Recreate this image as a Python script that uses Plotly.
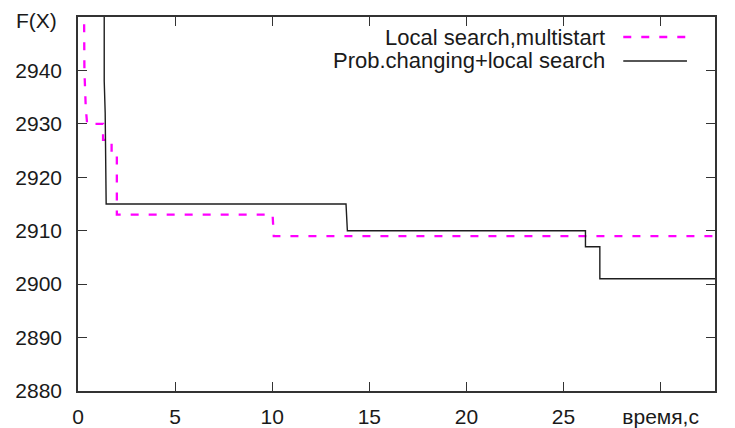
import plotly.graph_objects as go

# Data
ms_x = [0.31, 0.33, 0.40, 0.47, 1.29, 1.29, 1.73, 1.73, 2.00, 2.00, 10.02, 10.08, 32.8]
ms_y = [2952, 2940, 2933, 2930, 2930, 2927, 2927, 2925, 2925, 2913, 2913, 2909, 2909]

pc_x = [1.35, 1.35, 1.40, 1.45, 13.80, 13.83, 13.87, 26.13, 26.13, 26.87, 26.87, 32.8]
pc_y = [2970, 2938, 2932, 2915, 2915, 2912, 2910, 2910, 2907, 2907, 2901, 2901]

x_tickvals = [0, 5, 10, 15, 20, 25, 30]
x_ticktext = ["0", "5", "10", "15", "20", "25", "время,с"]
y_tickvals = [2880, 2890, 2900, 2910, 2920, 2930, 2940, 2950]
y_ticktext = ["2880", "2890", "2900", "2910", "2920", "2930", "2940", ""]
y_axis_label = "F(X)"

legend_names = ["Local search,multistart", "Prob.changing+local search"]

MAGENTA = "#ff00ff"
BLACK = "#1e1e1e"
FONT = "Liberation Sans, Arial, sans-serif"

fig = go.Figure()
fig.add_trace(go.Scatter(x=ms_x, y=ms_y, mode="lines", name=legend_names[0],
                         line=dict(color=MAGENTA, width=2.3, dash="8px,10px"),
                         showlegend=False))
fig.add_trace(go.Scatter(x=pc_x, y=pc_y, mode="lines", name=legend_names[1],
                         line=dict(color=BLACK, width=1.4),
                         showlegend=False))

axis_common = dict(showline=True, linecolor="#333333", linewidth=1.6, mirror="allticks",
                   ticks="inside", ticklen=9, tickwidth=1.3, tickcolor="#333333",
                   showgrid=False, zeroline=False, automargin=False,
                   ticklabeloverflow="allow",
                   tickfont=dict(family=FONT, size=21, color="#1a1a1a"))

fig.update_xaxes(range=[0, 32.8], tickmode="array", tickvals=x_tickvals,
                 ticktext=x_ticktext, ticklabelstandoff=6, **axis_common)
fig.update_yaxes(range=[2880, 2950], tickmode="array", tickvals=y_tickvals,
                 ticktext=y_ticktext, ticklabelstandoff=10, **axis_common)

# y-axis label in the place of the top tick label (kept inside the page)
fig.add_annotation(x=-0.032, y=1.024, xref="paper", yref="paper", text=y_axis_label,
                   showarrow=False, xanchor="right", yanchor="top", borderpad=0,
                   font=dict(family=FONT, size=21, color="#1a1a1a"))

# gnuplot-style legend: text right-aligned, line sample to the right
legend_rows = [(0.9465, MAGENTA, 2.3, "8px,10px"), (0.8824, BLACK, 1.4, "solid")]
for name, (yy, col, w, d) in zip(legend_names, legend_rows):
    fig.add_annotation(x=0.8305, y=yy, xref="paper", yref="paper", text=name,
                       showarrow=False, xanchor="right", yanchor="middle",
                       font=dict(family=FONT, size=22, color="#1a1a1a"))
    fig.add_shape(type="line", xref="paper", yref="paper", x0=0.856, x1=0.956,
                  y0=yy, y1=yy, line=dict(color=col, width=w, dash=d))

# the page body adds an 8px offset, so the figure is sized to fill the rest
fig.update_layout(width=727, height=420, margin=dict(l=70, r=20, t=9, b=37),
                  plot_bgcolor="white", paper_bgcolor="white",
                  font=dict(family=FONT))

fig.write_html("out.html")
